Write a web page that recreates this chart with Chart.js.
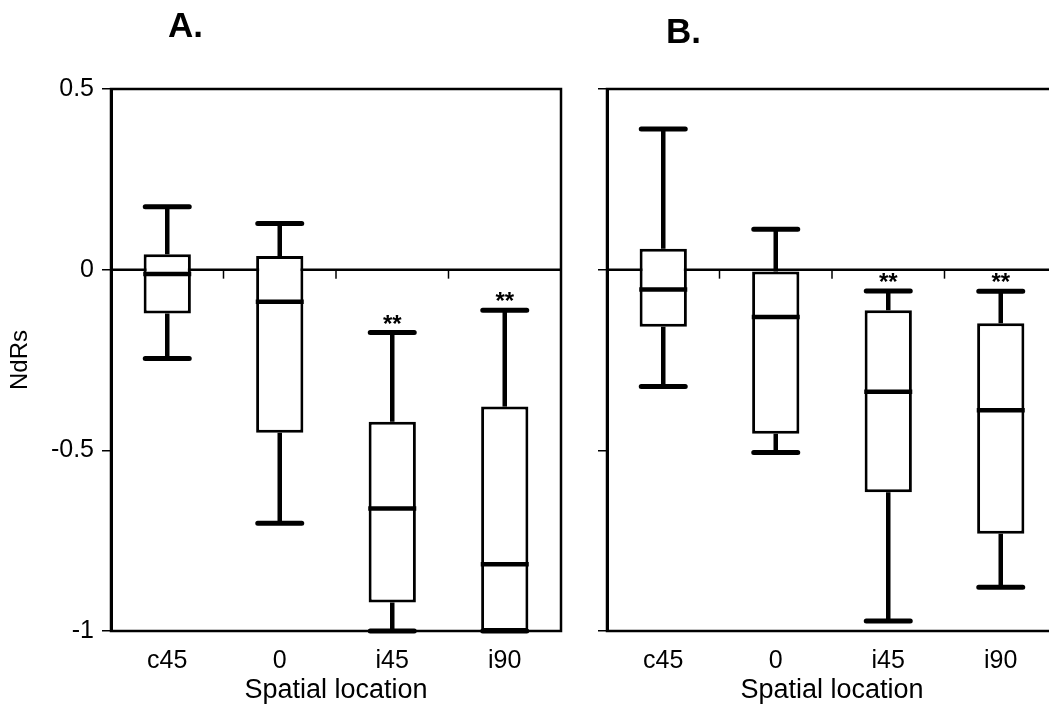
<!DOCTYPE html>
<html>
<head>
<meta charset="utf-8">
<script src="https://cdn.jsdelivr.net/npm/chart.js@4.4.0/dist/chart.umd.min.js"></script>
<style>
html, body { margin:0; padding:0; background:#fff; overflow:hidden; width:1049px; height:711px; }
canvas { position:absolute; top:0; }
</style>
</head>
<body>
<canvas id="chartA" width="580" height="711" style="left:0"></canvas>
<canvas id="chartB" width="490" height="711" style="left:580px"></canvas>
<script>
const categories = ['c45', '0', 'i45', 'i90'];
const yTicks = [0.5, 0, -0.5, -1];

// panel A
const lowA  = [-0.246, -0.702, -1.0, -1.0];
const q1A   = [-0.121, -0.451, -0.921, -1.0];
const medA  = [-0.012, -0.089, -0.661, -0.815];
const q3A   = [0.043, 0.038, -0.421, -0.379];
const highA = [0.174, 0.128, -0.174, -0.112];
const sigA  = ['', '', '**', '**'];

// panel B
const lowB  = [-0.323, -0.506, -0.972, -0.879];
const q1B   = [-0.158, -0.454, -0.616, -0.731];
const medB  = [-0.055, -0.131, -0.338, -0.389];
const q3B   = [0.058, -0.005, -0.112, -0.148];
const highB = [0.389, 0.112, -0.059, -0.060];
const sigB  = ['', '', '**', '**'];

const FONT = "'Liberation Sans', Arial, Helvetica, sans-serif";

function makePlugin(p) {
    return {
        id: 'boxParts',
        beforeDatasetsDraw(chart) {
            const ctx = chart.ctx, a = chart.chartArea, x = chart.scales.x, y = chart.scales.y;
            ctx.save();
            ctx.strokeStyle = '#000';
            // zero line
            const y0 = y.getPixelForValue(0);
            ctx.lineWidth = 2.5;
            ctx.beginPath(); ctx.moveTo(a.left, y0); ctx.lineTo(a.right, y0); ctx.stroke();
            // little ticks between the categories
            ctx.lineWidth = 1.5;
            for (let i = 0; i < categories.length - 1; i++) {
                const xb = (x.getPixelForValue(i) + x.getPixelForValue(i + 1)) / 2;
                ctx.beginPath(); ctx.moveTo(xb, y0); ctx.lineTo(xb, y0 + 9); ctx.stroke();
            }
            ctx.restore();
        },
        afterDatasetsDraw(chart) {
            const ctx = chart.ctx, a = chart.chartArea, x = chart.scales.x, y = chart.scales.y;
            ctx.save();
            ctx.strokeStyle = '#000';
            ctx.fillStyle = '#000';
            categories.forEach((c, i) => {
                const cx = x.getPixelForValue(i);
                // whiskers
                ctx.lineWidth = 4.5; ctx.lineCap = 'butt';
                ctx.beginPath();
                ctx.moveTo(cx, y.getPixelForValue(p.q3[i])); ctx.lineTo(cx, y.getPixelForValue(p.high[i]));
                ctx.moveTo(cx, y.getPixelForValue(p.q1[i])); ctx.lineTo(cx, y.getPixelForValue(p.low[i]));
                ctx.stroke();
                // caps
                ctx.lineWidth = 5; ctx.lineCap = 'round';
                ctx.beginPath();
                [p.high[i], p.low[i]].forEach(v => {
                    const py = y.getPixelForValue(v);
                    ctx.moveTo(cx - 22, py); ctx.lineTo(cx + 22, py);
                });
                ctx.stroke();
                // median
                ctx.lineWidth = 4.5; ctx.lineCap = 'butt';
                const pm = y.getPixelForValue(p.med[i]);
                ctx.beginPath(); ctx.moveTo(cx - 24, pm); ctx.lineTo(cx + 24, pm); ctx.stroke();
                // significance
                if (p.sig[i]) {
                    ctx.font = 'bold 24px ' + FONT;
                    ctx.textAlign = 'center'; ctx.textBaseline = 'alphabetic';
                    ctx.fillText(p.sig[i], cx, y.getPixelForValue(p.high[i]) - 1);
                }
            });
            // frame
            ctx.lineWidth = 2.5;
            ctx.strokeRect(a.left, a.top, a.right - a.left, a.bottom - a.top);
            // panel letter
            ctx.font = 'bold 35px ' + FONT;
            ctx.textAlign = 'left'; ctx.textBaseline = 'alphabetic';
            ctx.fillText(p.title, p.titleX, p.titleY);
            ctx.restore();
        }
    };
}

function makeChart(id, p) {
    return new Chart(document.getElementById(id), {
        type: 'bar',
        data: {
            labels: categories,
            datasets: [{
                data: p.q1.map((v, i) => [v, p.q3[i]]),
                backgroundColor: '#fff',
                borderColor: '#000',
                borderWidth: 3,
                borderSkipped: false,
                barPercentage: 0.42,
                categoryPercentage: 1
            }]
        },
        options: {
            responsive: false,
            animation: false,
            layout: { padding: { top: 89, right: p.padRight, left: 0, bottom: 0 } },
            plugins: { legend: { display: false }, tooltip: { enabled: false } },
            scales: {
                x: {
                    grid: { display: false },
                    border: { display: false },
                    ticks: { color: '#000', font: { size: 25, family: FONT }, padding: 7 },
                    title: { display: true, text: 'Spatial location', color: '#000',
                             font: { size: 27, family: FONT }, padding: { top: 0, bottom: 4 } },
                    afterFit: s => { s.height = 80; }
                },
                y: {
                    min: -1, max: 0.5,
                    afterBuildTicks: s => { s.ticks = yTicks.map(v => ({ value: v })); },
                    ticks: { display: p.showY, color: '#000', font: { size: 25, family: FONT }, padding: 8,
                             callback: v => String(v) },
                    grid: { drawOnChartArea: false, tickLength: 9, color: '#000', lineWidth: 1.5 },
                    border: { color: '#000', width: 3 },
                    title: { display: p.showY, text: 'NdRs', color: '#000',
                             font: { size: 24, family: FONT }, padding: { top: 6, bottom: 0 } },
                    afterFit: s => { s.width = p.axisWidth; }
                }
            }
        },
        plugins: [makePlugin(p)]
    });
}

makeChart('chartA', { low: lowA, q1: q1A, med: medA, q3: q3A, high: highA, sig: sigA,
    showY: true, axisWidth: 111, padRight: 19, title: 'A.', titleX: 168, titleY: 37 });
makeChart('chartB', { low: lowB, q1: q1B, med: medB, q3: q3B, high: highB, sig: sigB,
    showY: false, axisWidth: 27, padRight: 13, title: 'B.', titleX: 86, titleY: 43 });
</script>
</body>
</html>
